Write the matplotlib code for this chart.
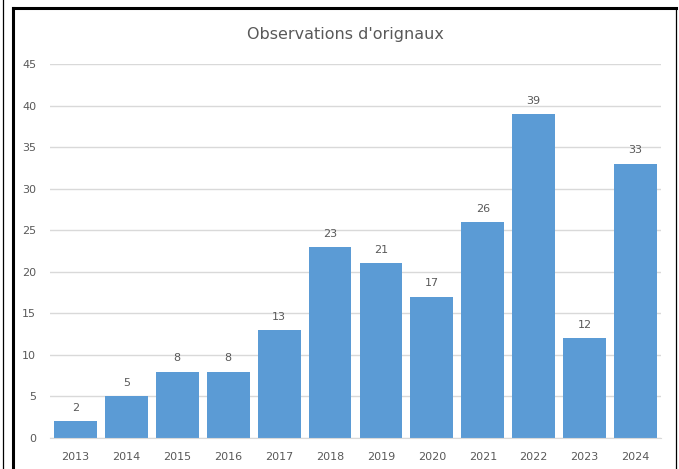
import matplotlib
matplotlib.use("Agg")
import matplotlib.pyplot as plt
from matplotlib.lines import Line2D
import numpy as np

years = ['2013', '2014', '2015', '2016', '2017', '2018',
         '2019', '2020', '2021', '2022', '2023', '2024']
observations = [2, 5, 8, 8, 13, 23, 21, 17, 26, 39, 12, 33]
y_ticks = [0, 5, 10, 15, 20, 25, 30, 35, 40, 45]

plt.rcParams['font.family'] = ['DejaVu Sans']

fig = plt.figure(figsize=(6.79, 4.69), dpi=100)
W, H = 679, 469
# plot area in pixels: x 50..661, y 64..438 (top to bottom)
ax = fig.add_axes([50 / W, 1 - 438 / H, (661 - 50) / W, (438 - 64) / H])

x = np.arange(len(years))
bars = ax.bar(x, observations, width=0.84, color='#5B9BD5', zorder=3)

for xi, v in zip(x, observations):
    ax.text(xi, v + 1.0, str(v), ha='center', va='bottom',
            fontsize=8, color='#595959')

ax.set_xlim(-0.5, len(years) - 0.5)
ax.set_ylim(0, 45)
ax.set_yticks(y_ticks)
ax.set_yticklabels([str(t) for t in y_ticks])
ax.set_xticks(x)
ax.set_xticklabels(years)
ax.tick_params(axis='both', length=0, labelsize=8, labelcolor='#595959')
ax.tick_params(axis='x', pad=10)
ax.tick_params(axis='y', pad=10)
ax.yaxis.grid(True, color='#D9D9D9', linewidth=1, zorder=0)
for s in ['top', 'right', 'left']:
    ax.spines[s].set_visible(False)
ax.spines['bottom'].set_color('#D9D9D9')
ax.spines['bottom'].set_zorder(4)

fig.text(345 / W, 1 - 35 / H, "Observations d'orignaux", ha='center',
         va='center', fontsize=11.5, color='#595959')

# outer frame lines
def px_line(x0, y0, x1, y1, lw):
    fig.add_artist(Line2D([x0 / W, x1 / W], [1 - y0 / H, 1 - y1 / H],
                          transform=fig.transFigure, color='black', linewidth=lw))

px_line(12.5, 8, 12.5, 469, 2.2)
px_line(12.5, 8, 676, 8, 2.2)
px_line(675.5, 8, 675.5, 469, 0.9)
px_line(2.5, 0, 2.5, 469, 0.9)

fig.savefig('out.png', dpi=100)
